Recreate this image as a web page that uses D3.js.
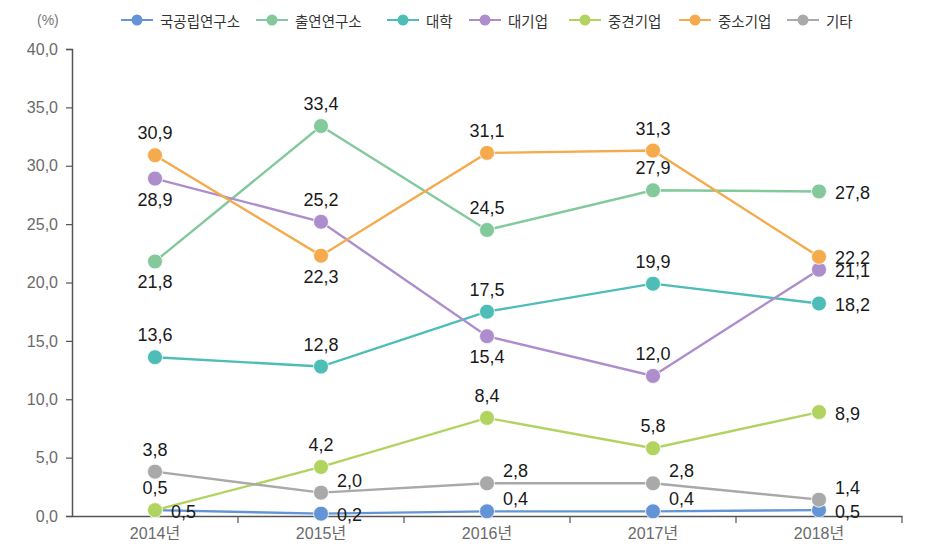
<!DOCTYPE html>
<html><head><meta charset="utf-8">
<script src="https://cdn.jsdelivr.net/npm/d3@7"></script>
<style>
body{margin:0;background:#fff;}
svg{display:block;font-family:"Noto Sans CJK KR","Noto Sans",sans-serif;}
</style></head>
<body><svg id="c" width="926" height="550"></svg>
<script>
const categories = ["2014년","2015년","2016년","2017년","2018년"];
const seriesNames = ["국공립연구소","출연연구소","대학","대기업","중견기업","중소기업","기타"];
const v국공립 = [0.5,0.2,0.4,0.4,0.5];
const v출연 = [21.8,33.4,24.5,27.9,27.8];
const v대학 = [13.6,12.8,17.5,19.9,18.2];
const v대기업 = [28.9,25.2,15.4,12.0,21.1];
const v중견 = [0.5,4.2,8.4,5.8,8.9];
const v중소 = [30.9,22.3,31.1,31.3,22.2];
const v기타 = [3.8,2.0,2.8,2.8,1.4];
const yTicks = [0,5,10,15,20,25,30,35,40];

const colors = ["#6395d6","#84c99b","#4fbdb7","#ad8dcb","#b1d360","#f5ab4d","#a9a9a9"];
// label placement per series/point: t=top, b=bottom, r=right, ru=right-up
const labelPos = [
  ["r","r","ru","ru","r"],
  ["b","t","t","t","r"],
  ["t","t","t","t","r"],
  ["b","t","b","t","r"],
  ["t","t","t","t","r"],
  ["t","b","t","t","r"],
  ["t","ru","ru","ru","ru"]
];
const values = [v국공립,v출연,v대학,v대기업,v중견,v중소,v기타];

const svg = d3.select("#c");
const x = d3.scaleBand().domain(categories).range([72,902]).padding(0);
const y = d3.scaleLinear().domain([0,40]).range([516,49]);
const fmt = v => d3.format(".1f")(v).replace(".",",");
const numFont = "'Liberation Sans','Noto Sans CJK KR',sans-serif";

// y axis
const ya = svg.append("g").attr("transform","translate(72,0)")
  .call(d3.axisLeft(y).tickValues(yTicks).tickSize(6).tickPadding(8).tickFormat(fmt));
ya.select(".domain").attr("stroke","#555").attr("stroke-width",1.5);
ya.selectAll(".tick line").attr("stroke","#555").attr("stroke-width",1.2);
ya.selectAll(".tick text").attr("fill","#6a6a6a").style("font-size","16px").style("font-family",numFont);

// x axis
const xa = svg.append("g").attr("transform","translate(0,516)")
  .call(d3.axisBottom(x).tickSize(0).tickPadding(12));
xa.select(".domain").attr("stroke","#555").attr("stroke-width",1.5);
xa.selectAll(".tick text").attr("fill","#6a6a6a").style("font-size","16px").style("font-family",numFont);
const bounds = categories.map(c=>x(c)).concat([x(categories[categories.length-1])+x.bandwidth()]);
xa.selectAll(".btick").data(bounds.slice(1)).join("line")
  .attr("x1",d=>d).attr("x2",d=>d).attr("y1",0).attr("y2",7)
  .attr("stroke","#555").attr("stroke-width",1.2);

const cx = c => x(c) + x.bandwidth()/2;

values.forEach((vals,si)=>{
  const g = svg.append("g");
  const line = d3.line().x((d,i)=>cx(categories[i])).y(d=>y(d));
  g.append("path").datum(vals).attr("d",line).attr("fill","none")
    .attr("stroke",colors[si]).attr("stroke-width",2.4);
  g.selectAll("circle").data(vals).join("circle")
    .attr("cx",(d,i)=>cx(categories[i])).attr("cy",d=>y(d)).attr("r",7.5)
    .attr("fill",colors[si]).attr("stroke","#fff").attr("stroke-width",0.8);
});
values.forEach((vals,si)=>{
  vals.forEach((v,i)=>{
    const p = labelPos[si][i];
    const px = cx(categories[i]), py = y(v);
    let tx=px, ty=py, anchor="middle";
    if(p==="t"){ty=py-22;}
    else if(p==="b"){ty=py+21;}
    else if(p==="r"){tx=px+16;ty=py+1.5;anchor="start";}
    else if(p==="ru"){tx=px+16;ty=py-12;anchor="start";}
    svg.append("text").attr("x",tx).attr("y",ty).attr("text-anchor",anchor)
      .attr("dominant-baseline","central").attr("fill","#1a1a1a")
      .style("font-family",numFont).style("font-size","18px").text(fmt(v));
  });
});

svg.append("text").attr("x",37).attr("y",20).attr("dominant-baseline","central")
  .attr("fill","#777").style("font-size","14px").style("font-family",numFont).text("(%)");

const legendX = [137,272,403,485,585,695,803];
seriesNames.forEach((n,i)=>{
  const lg = svg.append("g").attr("transform",`translate(${legendX[i]},20)`);
  lg.append("line").attr("x1",-16).attr("x2",16).attr("stroke",colors[i]).attr("stroke-width",2);
  lg.append("circle").attr("r",5.5).attr("fill",colors[i]);
  lg.append("text").attr("x",23).attr("dominant-baseline","central")
    .attr("fill","#333").style("font-size","14.5px").text(n);
});
</script></body></html>
